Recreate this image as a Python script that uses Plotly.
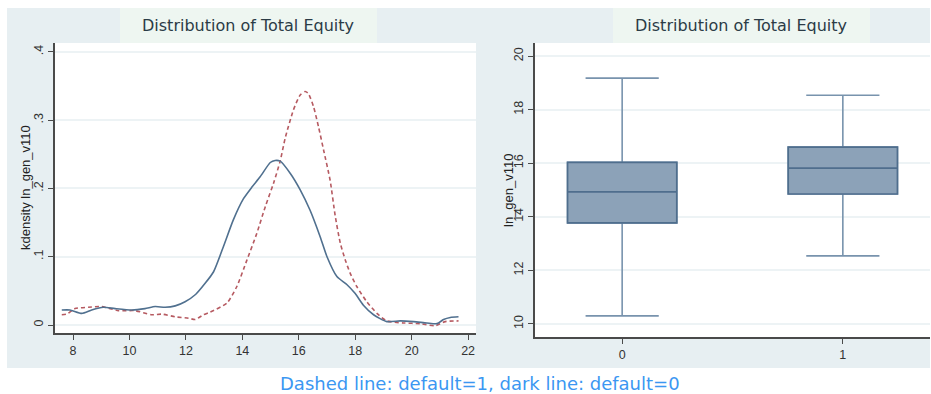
import plotly.graph_objects as go

W, H = 931, 394

# Kernel density of ln_gen_v110, default = 0 (solid)
kd_x0 = [7.6, 7.89, 8.31, 8.66, 9.07, 9.49, 10.08, 10.55, 10.91, 11.26, 11.62, 11.97,
         12.35, 12.68, 12.98, 13.33, 13.68, 14.04, 14.34, 14.63, 14.99, 15.16, 15.34,
         15.70, 16.05, 16.40, 16.76, 17.0, 17.35, 17.71, 18.0, 18.29, 18.65, 19.12,
         19.6, 20.07, 20.54, 20.9, 21.13, 21.37, 21.66]
kd_y0 = [0.022, 0.022, 0.017, 0.022, 0.026, 0.024, 0.022, 0.024, 0.027, 0.026, 0.028, 0.034,
         0.045, 0.061, 0.078, 0.115, 0.154, 0.185, 0.202, 0.217, 0.238, 0.241, 0.240,
         0.222, 0.198, 0.168, 0.129, 0.100, 0.071, 0.059, 0.046, 0.029, 0.015, 0.005,
         0.006, 0.005, 0.003, 0.002, 0.008, 0.011, 0.012]

# Kernel density of ln_gen_v110, default = 1 (dashed)
kd_x1 = [7.6, 7.78, 8.07, 8.54, 9.02, 9.61, 10.2, 10.79, 11.15, 11.62, 12.09, 12.33,
         12.62, 12.86, 13.45, 13.80, 14.16, 14.51, 14.81, 15.10, 15.34, 15.52, 15.81,
         16.05, 16.23, 16.34, 16.52, 16.70, 16.88, 17.11, 17.29, 17.47, 17.65, 17.82,
         18.06, 18.41, 18.77, 19.12, 19.71, 20.30, 20.84, 21.19, 21.66]
kd_y1 = [0.015, 0.016, 0.024, 0.026, 0.027, 0.021, 0.021, 0.015, 0.016, 0.012, 0.010, 0.008,
         0.015, 0.019, 0.032, 0.056, 0.095, 0.134, 0.173, 0.207, 0.240, 0.274, 0.315,
         0.337, 0.342, 0.339, 0.320, 0.290, 0.256, 0.212, 0.160, 0.120, 0.095, 0.076,
         0.056, 0.034, 0.017, 0.006, 0.003, 0.002, -0.001, 0.005, 0.006]

# Box plot summaries by default group
groups = ["0", "1"]
box_lower = [10.30, 12.54]
box_q1 = [13.77, 14.85]
box_median = [14.93, 15.82]
box_q3 = [16.03, 16.60]
box_upper = [19.18, 18.54]

kd_ticks = [8, 10, 12, 14, 16, 18, 20, 22]
dens_ticks = [0, 0.1, 0.2, 0.3, 0.4]
dens_ticktext = ["0", ".1", ".2", ".3", ".4"]
ln_ticks = [10, 12, 14, 16, 18, 20]

TITLE = "Distribution of Total Equity"
CAPTION = "Dashed line: default=1, dark line: default=0"

FONT = "Arial, Liberation Sans, sans-serif"
WIDE_FONT = "DejaVu Sans, sans-serif"
PANEL = "#e7eff2"
TITLE_BG = "#eef6f1"
AXIS = "#4a4a4a"
GRID = "#edf3f5"


def fx(p):
    return p / W


def fy(p):
    return 1 - p / H


fig = go.Figure()

fig.add_trace(go.Scatter(
    x=kd_x1, y=kd_y1, mode="lines", xaxis="x", yaxis="y",
    line=dict(color="#b65a61", width=1.6, dash="4px,3px", shape="spline", smoothing=0.6),
    hoverinfo="skip"))
fig.add_trace(go.Scatter(
    x=kd_x0, y=kd_y0, mode="lines", xaxis="x", yaxis="y",
    line=dict(color="#50708f", width=1.6, shape="spline", smoothing=0.6),
    hoverinfo="skip"))

for i, g in enumerate(groups):
    # whiskers and caps (lighter stroke)
    fig.add_trace(go.Box(
        x=[i], q1=[box_q1[i]], median=[box_median[i]], q3=[box_q3[i]],
        lowerfence=[box_lower[i]], upperfence=[box_upper[i]],
        xaxis="x2", yaxis="y2", name=g, boxpoints=False,
        width=0.495, whiskerwidth=0.67,
        fillcolor="#8ca2b8", line=dict(color="#7893ad", width=1.6)))
    # box body and median (darker outline)
    fig.add_trace(go.Box(
        x=[i], q1=[box_q1[i]], median=[box_median[i]], q3=[box_q3[i]],
        lowerfence=[box_q1[i]], upperfence=[box_q3[i]],
        xaxis="x2", yaxis="y2", name=g, boxpoints=False,
        width=0.495, whiskerwidth=0,
        fillcolor="#8ca2b8", line=dict(color="#4f6e8d", width=1.7)))

shapes = [
    # outer graph region
    dict(type="rect", xref="paper", yref="paper", layer="below",
         x0=fx(7), x1=fx(930), y0=fy(368), y1=fy(8),
         fillcolor=PANEL, line=dict(width=0)),
    # title boxes
    dict(type="rect", xref="paper", yref="paper", layer="below",
         x0=fx(120), x1=fx(377), y0=fy(43), y1=fy(8),
         fillcolor=TITLE_BG, line=dict(width=0)),
    dict(type="rect", xref="paper", yref="paper", layer="below",
         x0=fx(613), x1=fx(870), y0=fy(43), y1=fy(8),
         fillcolor=TITLE_BG, line=dict(width=0)),
    # plot regions
    dict(type="rect", xref="x domain", yref="y domain", layer="below",
         x0=0, x1=1, y0=0, y1=1, fillcolor="white", line=dict(width=0)),
    dict(type="rect", xref="x2 domain", yref="y2 domain", layer="below",
         x0=0, x1=1, y0=0, y1=1, fillcolor="white", line=dict(width=0)),
]


def label(text, x, y, size, color, family, angle=0):
    return dict(text=text, xref="paper", yref="paper", x=fx(x), y=fy(y),
                xanchor="center", yanchor="middle", textangle=angle,
                showarrow=False, font=dict(family=family, size=size, color=color))


annotations = [
    label(TITLE, 248, 26, 16, "#2b3b46", WIDE_FONT),
    label(TITLE, 741, 26, 16, "#2b3b46", WIDE_FONT),
    label("kdensity ln_gen_v110", 25, 188, 13, "#222", FONT, -90),
    label("ln_gen_v110", 508, 190, 13, "#222", FONT, -90),
    label(CAPTION, 480, 383, 18, "#3b97f2", WIDE_FONT),
]

axis_common = dict(showline=True, linecolor=AXIS, linewidth=1.5, ticks="outside",
                   ticklen=5, tickcolor=AXIS, tickwidth=1.2, zeroline=False,
                   tickfont=dict(family=FONT, size=12.5, color="#333"))

fig.update_layout(
    width=W, height=H, margin=dict(l=0, r=0, t=0, b=0),
    paper_bgcolor="white", plot_bgcolor="rgba(0,0,0,0)",
    showlegend=False, shapes=shapes, annotations=annotations,
    xaxis=dict(domain=[fx(55), fx(476)], range=[7.36, 22.28], tickvals=kd_ticks,
               showgrid=False, anchor="y", **axis_common),
    yaxis=dict(domain=[fy(333), fy(43)], range=[-0.0117, 0.413], tickvals=dens_ticks,
               ticktext=dens_ticktext, tickangle=-90, showgrid=True, gridcolor=GRID,
               gridwidth=1.5, anchor="x", **axis_common),
    xaxis2=dict(domain=[fx(535), fx(930)], range=[-0.395, 1.395], tickvals=[0, 1],
                ticktext=groups, showgrid=False, anchor="y2", **axis_common),
    yaxis2=dict(domain=[fy(337), fy(43)], range=[9.51, 20.49], tickvals=ln_ticks,
                tickangle=-90, showgrid=True, gridcolor=GRID, gridwidth=1.5,
                anchor="x2", **axis_common),
)

fig.write_html("out.html")
